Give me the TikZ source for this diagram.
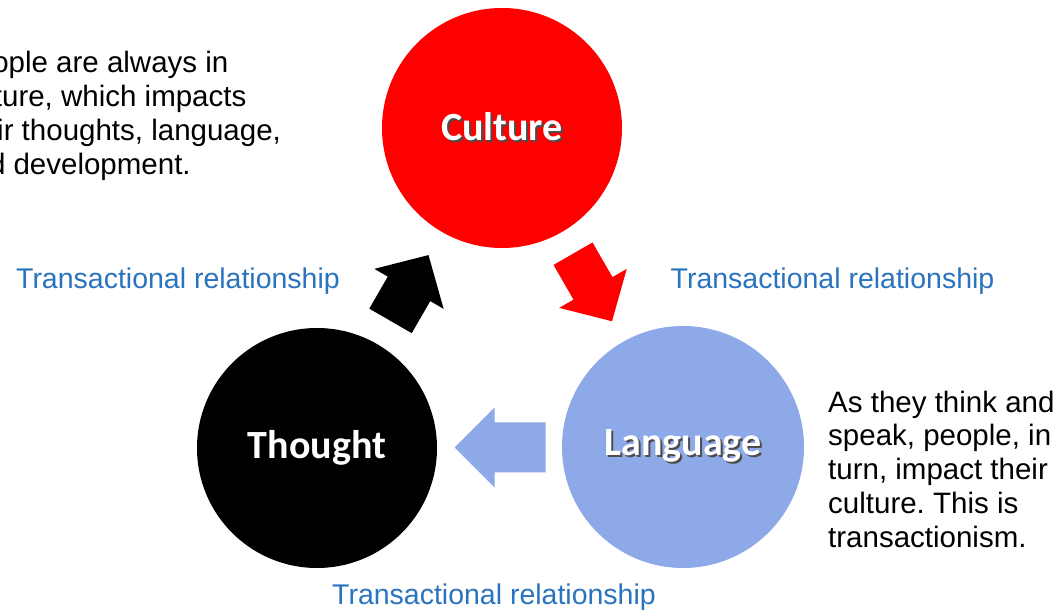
\documentclass[tikz,border=0pt]{standalone}
\usepackage{fontspec}
\setmainfont{Liberation Sans}
\newfontfamily\labelfont{Carlito}
\usetikzlibrary{calc}
\frenchspacing

\definecolor{culturered}{HTML}{FF0000}
\definecolor{langblue}{HTML}{8EA9E7}
\definecolor{relblue}{HTML}{2A73BE}

% white heading text with a soft dark drop shadow underneath
\newcommand\shadowed[1]{\makebox[0pt][l]{\hspace{2pt}\raisebox{-2pt}{\color{black!70}#1}}#1}

\tikzset{
  x=1pt, y=1pt,
  bigcircle/.style={circle, minimum size=240pt, inner sep=0pt, text=white,
    font=\labelfont\bfseries\fontsize{40}{44}\selectfont},
  bodytext/.style={align=left, inner sep=0pt, text=black,
    font=\fontsize{29.5}{33.8}\selectfont},
  reltext/.style={inner sep=0pt, text=relblue,
    font=\fontsize{28.5}{32}\selectfont},
  % block arrow pointing along +x: length / shaft width / head width / head length
  pics/blockarrow/.style args={#1/#2/#3/#4}{code={
    \path[pic actions]
      ({-#1/2},{-#2/2}) -- ({#1/2-#4},{-#2/2}) -- ({#1/2-#4},{-#3/2})
      -- ({#1/2},0) -- ({#1/2-#4},{#3/2}) -- ({#1/2-#4},{#2/2})
      -- ({-#1/2},{#2/2}) -- cycle;
  }},
}

\begin{document}
\begin{tikzpicture}
  \useasboundingbox (0,0) rectangle (1061,613);
  \clip (0,0) rectangle (1061,613);
  \fill[white] (0,0) rectangle (1061,613);

  % the three concepts
  \node[bigcircle, fill=culturered] (culture) at (502,485) {\shadowed{Culture}};
  \node[bigcircle, fill=black] (thought) at (317,165) {Thought};
  \node[bigcircle, fill=langblue, minimum size=242pt] (language) at (683,166) {\shadowed{Language}};

  % block arrows between the circles
  \pic[fill=culturered, rotate=-60] at ($(culture)!0.5!(language)$) {blockarrow={78/45/78/38}};
  \pic[fill=langblue, rotate=180] at ($(language)!0.5!(thought)$) {blockarrow={91/50/80/40}};
  \pic[fill=black, rotate=60] at ($(thought)!0.5!(culture)$) {blockarrow={76/49/80/39}};

  % relationship labels
  \node[reltext, anchor=base] (rel-left) at (178,324) {Transactional relationship};
  \node[reltext, anchor=base] (rel-right) at (832.5,324) {Transactional relationship};
  \node[reltext, anchor=base] (rel-bottom) at (494,8) {Transactional relationship};

  % explanatory notes (the left one runs past the left edge)
  \node[bodytext, anchor=north west] (note-left) at (-44,561.6)
    {People are always in\\culture, which impacts\\their thoughts, language,\\and development.};
  \node[bodytext, anchor=north west] (note-right) at (828,222.5)
    {As they think and\\speak, people, in\\turn, impact their\\culture. This is\\transactionism.};
\end{tikzpicture}
\end{document}
